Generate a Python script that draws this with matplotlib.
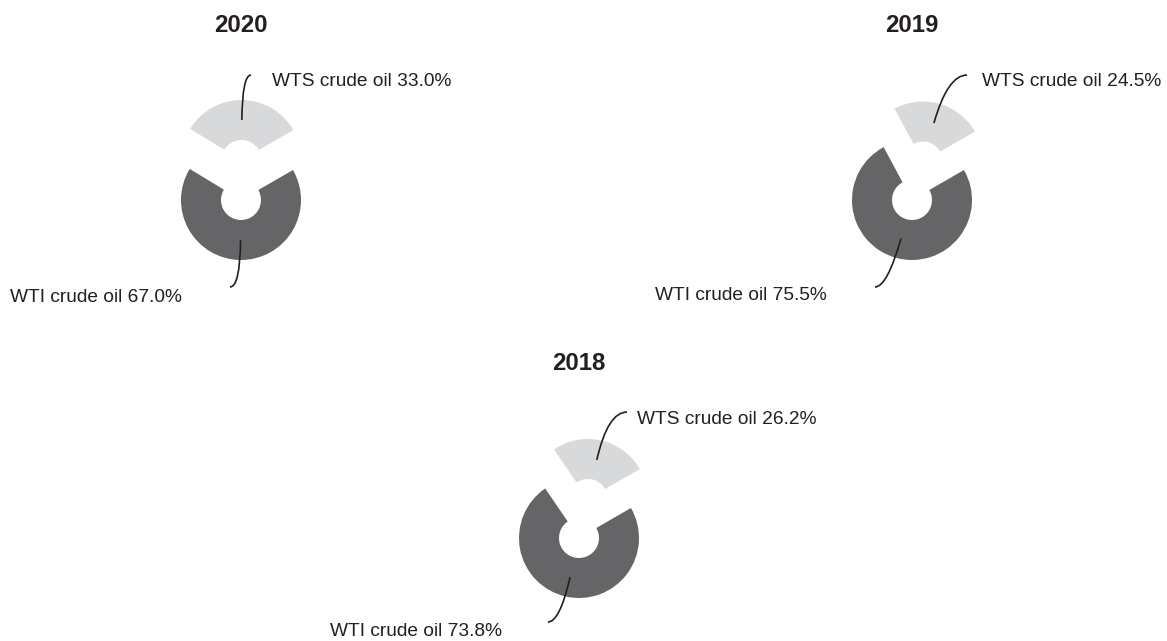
import numpy as np
import matplotlib
matplotlib.use("Agg")
import matplotlib.pyplot as plt
from matplotlib import font_manager
from matplotlib.path import Path
from matplotlib.patches import PathPatch

# datos
anios = ["2020", "2019", "2018"]
wti = [67.0, 75.5, 73.8]
wts = [33.0, 24.5, 26.2]
etiquetas = ["WTI crude oil", "WTS crude oil"]

# disposicion (pixeles de la imagen, y hacia abajo)
W, H = 1167, 641
centros = [(241, 200), (912, 200), (579, 538)]
pos_wts = [(272, 82), (982, 82), (637, 420)]      # borde izquierdo del texto
fin_wts = [(251, 75), (967, 75), (627, 412)]
pos_wti = [(182, 297), (827, 295), (502, 632)]    # borde derecho del texto
fin_wti = [(230, 287), (875, 287), (548, 622)]

oscuro = "#656567"
claro = "#d8d9db"
negro = "#231f20"

nombres = {f.name for f in font_manager.fontManager.ttflist}
if "Liberation Sans Narrow" in nombres:
    fuente = "Liberation Sans Narrow"
    tam = 16.8
else:
    fuente = "Liberation Sans"
    tam = 13.8
plt.rcParams["font.family"] = [fuente, "DejaVu Sans"]

fig = plt.figure(figsize=(W/100, H/100), dpi=100)
ax = fig.add_axes([0, 0, 1, 1])

def yy(y):
    return H - y

def linea(p0, p2, ang):
    # curva cuadratica: sale en direccion radial y llega horizontal
    s = np.sin(np.radians(ang))
    c = np.cos(np.radians(ang))
    d = abs(p2[1] - p0[1]) / max(abs(s), 0.3)
    p1 = (p0[0] + d*c, p0[1] + d*s)
    path = Path([p0, p1, p2], [Path.MOVETO, Path.CURVE3, Path.CURVE3])
    ax.add_patch(PathPatch(path, fill=False, ec=negro, lw=1.2))

R = 60
for i in range(len(anios)):
    cx, cy = centros[i]
    # en pie, explode va en unidades de datos (aqui pixeles)
    cuñas, _ = ax.pie([wti[i], wts[i]], explode=[0, 40], startangle=30,
                      counterclock=False, radius=R, center=(cx, yy(cy)),
                      colors=[oscuro, claro],
                      wedgeprops=dict(width=40, linewidth=0))
    ax.text(cx, yy(cy - 174), anios[i], ha="center", va="center",
            fontsize=tam + 3.5, fontweight="bold", color=negro)

    for k, w in enumerate(cuñas):
        mid = (w.theta1 + w.theta2) / 2
        rr = w.r - w.width / 2
        ancla = (w.center[0] + rr*np.cos(np.radians(mid)),
                 w.center[1] + rr*np.sin(np.radians(mid)))
        if k == 0:
            fin = fin_wti[i]
            tx, ty = pos_wti[i]
            txt = "%s %.1f%%" % (etiquetas[0], wti[i])
            ha = "right"
        else:
            fin = fin_wts[i]
            tx, ty = pos_wts[i]
            txt = "%s %.1f%%" % (etiquetas[1], wts[i])
            ha = "left"
        linea(ancla, (fin[0], yy(fin[1])), mid)
        ax.text(tx, yy(ty), txt, ha=ha, va="center", fontsize=tam, color=negro)

ax.set_xlim(0, W)
ax.set_ylim(0, H)
ax.set_aspect("equal")
ax.axis("off")

fig.savefig("out.png", dpi=100, facecolor="white")
